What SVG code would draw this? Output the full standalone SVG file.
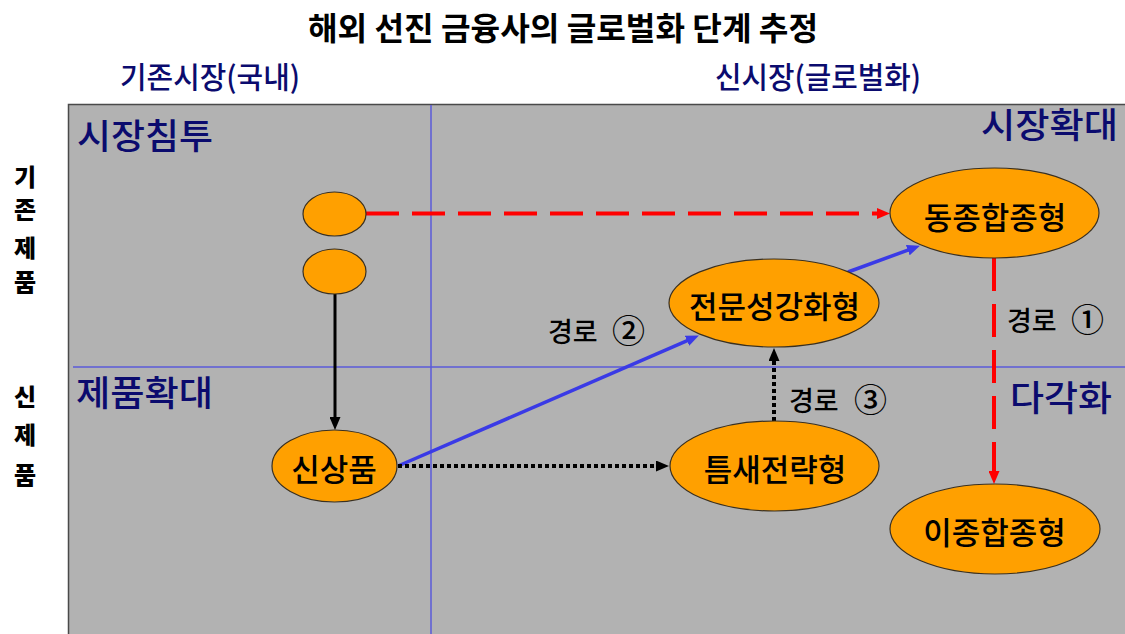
<svg xmlns="http://www.w3.org/2000/svg" width="1125" height="634" viewBox="0 0 1125 634">
<style>
.k{font-family:"Noto Sans CJK KR","Noto Sans",sans-serif}
.title{font-size:32px;font-weight:700;fill:#000}
.top{font-size:30px;font-weight:500;fill:#0b0b6e}
.side{font-size:24px;font-weight:900;fill:#000;text-anchor:middle}
.quad{font-size:35px;font-weight:500;fill:#0b0b6e}
.node{fill:#ffa000;stroke:#3a3020;stroke-width:1.2}
.nt{font-size:31px;font-weight:500;fill:#000;text-anchor:middle}
.path{font-size:27px;font-weight:500;fill:#000}
.num{font-size:33px;font-weight:500}
.grid{stroke:#5a5ad8;stroke-width:1.5;fill:none}
</style>
<defs>
<marker id="aR" markerUnits="userSpaceOnUse" markerWidth="13" markerHeight="11" refX="6" refY="5.5" orient="auto"><path d="M0,0 L13,5.5 L0,11 z" fill="#ff0000"/></marker>
<marker id="aK" markerUnits="userSpaceOnUse" markerWidth="13" markerHeight="11" refX="6" refY="5.5" orient="auto"><path d="M0,0 L13,5.5 L0,11 z" fill="#000"/></marker>
<marker id="aB" markerUnits="userSpaceOnUse" markerWidth="13" markerHeight="11" refX="6" refY="5.5" orient="auto"><path d="M0,0 L13,5.5 L0,11 z" fill="#3a3ae6"/></marker>
</defs>
<rect width="1125" height="634" fill="#fff"/>
<text class="k title" x="308" y="40" textLength="510" lengthAdjust="spacingAndGlyphs">해외 선진 금융사의 글로벌화 단계 추정</text>
<text class="k top" x="120" y="88" textLength="180" lengthAdjust="spacingAndGlyphs">기존시장(국내)</text>
<text class="k top" x="715" y="88" textLength="206" lengthAdjust="spacingAndGlyphs">신시장(글로벌화)</text>
<g id="side-labels">
<text class="k side" x="25" y="186">기</text>
<text class="k side" x="25" y="219">존</text>
<text class="k side" x="25" y="257">제</text>
<text class="k side" x="25" y="291">품</text>
<text class="k side" x="25" y="406">신</text>
<text class="k side" x="25" y="444">제</text>
<text class="k side" x="25" y="484">품</text>
</g>
<g id="matrix">
<rect x="68.5" y="104.5" width="1065" height="540" fill="#b2b2b2" stroke="#4a4a4a" stroke-width="1.5"/>
<line class="grid" x1="431" y1="105" x2="431" y2="634"/>
<line class="grid" x1="73" y1="367" x2="1125" y2="367"/>
<text class="k quad" x="77" y="149" textLength="136" lengthAdjust="spacingAndGlyphs">시장침투</text>
<text class="k quad" x="981" y="138" textLength="137" lengthAdjust="spacingAndGlyphs">시장확대</text>
<text class="k quad" x="76" y="406" textLength="137" lengthAdjust="spacingAndGlyphs">제품확대</text>
<text class="k quad" x="1010" y="411" textLength="102" lengthAdjust="spacingAndGlyphs">다각화</text>
</g>
<g id="connectors">
<path d="M366,213.5 L883,213.5" stroke="#ff0000" stroke-width="4" stroke-dasharray="33 13" fill="none" marker-end="url(#aR)"/>
<path d="M335,294 L335,423" stroke="#000" stroke-width="3" fill="none" marker-end="url(#aK)"/>
<path d="M398,466 L692.5,338.4" stroke="#3a3ae6" stroke-width="3.5" fill="none" marker-end="url(#aB)"/>
<path d="M398,466 L662,466" stroke="#000" stroke-width="4" stroke-dasharray="4 3" fill="none" marker-end="url(#aK)"/>
<path d="M848,272 L913.4,248.1" stroke="#3a3ae6" stroke-width="3.5" fill="none" marker-end="url(#aB)"/>
<path d="M774,421 L774,355" stroke="#000" stroke-width="4" stroke-dasharray="4 3" fill="none" marker-end="url(#aK)"/>
<path d="M994,258 L994,477" stroke="#ff0000" stroke-width="4" stroke-dasharray="33 13" fill="none" marker-end="url(#aR)"/>
<text class="k path" x="548" y="342">경로<tspan class="num" x="612" y="343">②</tspan></text>
<text class="k path" x="1007" y="331">경로<tspan class="num" x="1071" y="332">①</tspan></text>
<text class="k path" x="789" y="411">경로<tspan class="num" x="854" y="412">③</tspan></text>
</g>
<g id="node-existing-1"><ellipse class="node" cx="334.5" cy="214" rx="31.5" ry="22"/></g>
<g id="node-existing-2"><ellipse class="node" cx="334.5" cy="271.5" rx="31.5" ry="22.5"/></g>
<g id="node-new-product"><ellipse class="node" cx="334.5" cy="466" rx="62.5" ry="36"/><text class="k nt" x="334" y="481">신상품</text></g>
<g id="node-same-conglomerate"><ellipse class="node" cx="994.5" cy="213" rx="104.5" ry="45"/><text class="k nt" x="995" y="229">동종합종형</text></g>
<g id="node-specialist"><ellipse class="node" cx="774" cy="303" rx="105" ry="44"/><text class="k nt" x="774.5" y="318">전문성강화형</text></g>
<g id="node-niche"><ellipse class="node" cx="774.5" cy="466" rx="104.5" ry="45"/><text class="k nt" x="775" y="481">틈새전략형</text></g>
<g id="node-diff-conglomerate"><ellipse class="node" cx="995" cy="529" rx="105" ry="45"/><text class="k nt" x="994.5" y="544">이종합종형</text></g>
</svg>
